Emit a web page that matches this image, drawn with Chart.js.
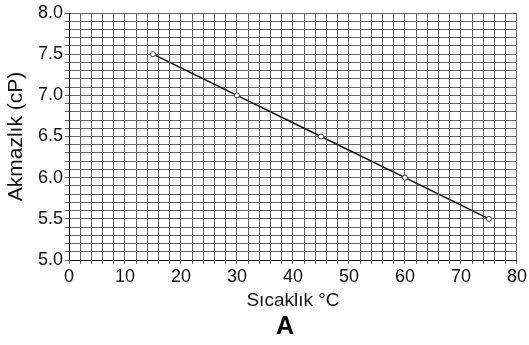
<!DOCTYPE html>
<html>
<head>
<meta charset="utf-8">
<script src="https://cdn.jsdelivr.net/npm/chart.js@4"></script>
<style>
  body { margin: 0; background: #fff; }
  #wrap { width: 529px; height: 345px; }
</style>
</head>
<body>
<div id="wrap"><canvas id="viscChart" width="529" height="345"></canvas></div>
<script>
// Values
const temps = [15, 30, 45, 60, 75];          // Sıcaklık °C
const viscosity = [7.5, 7.0, 6.5, 6.0, 5.5]; // Akmazlık (cP)
const xTickLabels = [0, 10, 20, 30, 40, 50, 60, 70, 80];
const yTickLabels = ['5.0', '5.5', '6.0', '6.5', '7.0', '7.5', '8.0'];

const font = 'Liberation Sans, Arial, sans-serif';

// caption under the x axis title
const captionPlugin = {
    id: 'caption',
    afterDraw(chart) {
        const c = chart.ctx;
        c.save();
        c.font = 'bold 25px ' + font;
        c.fillStyle = '#000';
        c.textAlign = 'center';
        c.textBaseline = 'middle';
        c.fillText('A', 285, 327);
        c.restore();
    }
};

const ctx = document.getElementById('viscChart').getContext('2d');
const viscChart = new Chart(ctx, {
    type: 'line',
    data: {
        datasets: [{
            data: temps.map((t, i) => ({ x: t, y: viscosity[i] })),
            borderColor: '#111',
            borderWidth: 1.5,
            pointRadius: 2.5,
            pointBackgroundColor: '#fff',
            pointBorderColor: '#444',
            pointBorderWidth: 1,
            tension: 0
        }]
    },
    options: {
        responsive: false,
        animation: false,
        layout: { padding: { top: 13, right: 11, left: 0, bottom: 0 } },
        plugins: {
            legend: { display: false },
            tooltip: { enabled: false }
        },
        scales: {
            x: {
                type: 'linear',
                min: 0,
                max: 80,
                afterFit: (s) => { s.height = 85; },
                ticks: {
                    stepSize: 2,
                    autoSkip: false,
                    maxRotation: 0,
                    padding: 2,
                    color: '#111',
                    font: { family: font, size: 18 },
                    callback: (v) => xTickLabels.includes(v) ? String(v) : ''
                },
                grid: { color: '#666', lineWidth: 1, tickLength: 4 },
                border: { color: '#111', width: 1 },
                title: {
                    display: true,
                    text: 'Sıcaklık °C',
                    color: '#111',
                    font: { family: font, size: 19 },
                    padding: { top: 0, bottom: 33 }
                }
            },
            y: {
                min: 5,
                max: 8,
                afterFit: (s) => { s.width = 69; },
                ticks: {
                    stepSize: 0.1,
                    autoSkip: false,
                    padding: 2,
                    color: '#111',
                    font: { family: font, size: 18 },
                    callback: (v) => {
                        const lbl = v.toFixed(1);
                        return yTickLabels.includes(lbl) ? lbl : '';
                    }
                },
                grid: { color: '#666', lineWidth: 1, tickLength: 4 },
                border: { color: '#111', width: 1 },
                title: {
                    display: true,
                    text: 'Akmazlık (cP)',
                    color: '#111',
                    font: { family: font, size: 21 },
                    padding: { top: 4, bottom: 0 }
                }
            }
        }
    },
    plugins: [captionPlugin]
});
</script>
</body>
</html>
